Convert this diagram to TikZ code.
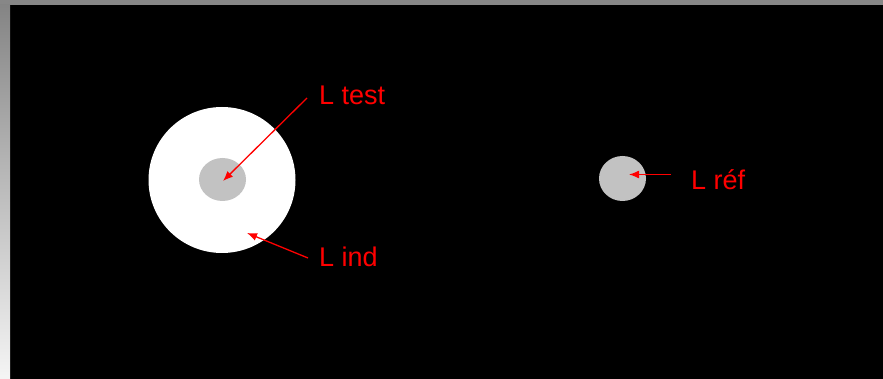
\documentclass[tikz,border=0pt]{standalone}
\usepackage{fontspec}
\setmainfont{Liberation Sans}
\usetikzlibrary{arrows.meta,shapes.geometric}
\begin{document}
\begin{tikzpicture}[x=1pt,y=-1pt,
  lbl/.style={text=red,font=\fontsize{27}{29}\selectfont,anchor=base west,inner sep=0pt},
  ptr/.style={draw=red,line width=1.3pt,-{Latex[length=10pt,width=8pt]}},
  spot/.style={fill=black!24,draw=none,inner sep=0pt}]
\useasboundingbox (0,0) rectangle (883,379);
\fill[black] (0,0) rectangle (883,379);
\fill[black!47] (0,0) rectangle (883,5);
\shade[top color=black!48,bottom color=black!4] (0,5) rectangle (10,379);
% circles
\fill[white] (222,180) ellipse [x radius=73.5, y radius=73];
\node[spot,ellipse,minimum width=47pt,minimum height=43pt] (test) at (222.5,179.5) {};
\node[spot,ellipse,minimum width=47pt,minimum height=45pt] (ref) at (622.5,178.5) {};
% labels
\node[lbl] (ltest) at (319,105) {L test};
\node[lbl] (lind) at (319,266) {L ind};
\node[lbl] (lref) at (691,190) {L réf};
% connector ends
\coordinate (tA) at (307,98);
\coordinate (tB) at (223,181);
\coordinate (iA) at (308,258);
\coordinate (iB) at (247,233);
\coordinate (rA) at (671,174.5);
\coordinate (rB) at (629,174.5);
\draw[ptr] (tA) -- (tB);
\draw[ptr] (iA) -- (iB);
\draw[ptr] (rA) -- (rB);
\end{tikzpicture}
\end{document}
